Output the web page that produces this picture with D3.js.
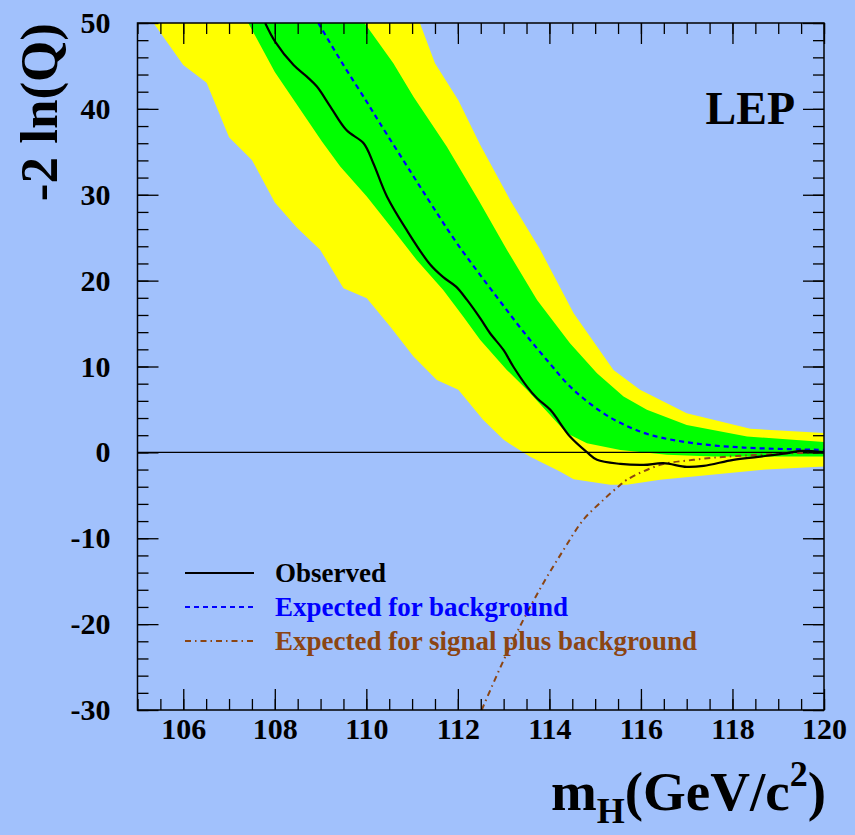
<!DOCTYPE html>
<html>
<head>
<meta charset="utf-8">
<script src="https://cdn.jsdelivr.net/npm/d3@7"></script>
<style>
  html, body { margin: 0; padding: 0; background: #a1c1fc; }
  svg { display: block; }
  text { font-family: "Liberation Serif", "Times New Roman", serif; font-weight: bold; }
</style>
</head>
<body>
<svg id="chart" width="855" height="835"></svg>
<script>
// -2 ln(Q) versus Higgs mass, LEP combination

// Observed test statistic [mH, -2lnQ]
const observed = [[107.79,50],[108.01,47.8],[108.41,45.1],[108.70,43.75],[108.92,42.6],[109.21,40.3],
  [109.57,37.5],[109.94,36.0],[110.15,33.7],[110.45,29.8],[110.88,25.9],[111.39,21.9],[111.68,20.4],
  [111.96,19.3],[112.20,17.75],[112.49,15.6],[112.70,13.9],[113.0,11.9],[113.21,10.0],[113.51,7.66],
  [113.73,6.3],[114.02,4.95],[114.45,1.84],[114.82,0.02],[115.04,-0.87],[115.55,-1.34],[116.06,-1.46],
  [116.49,-1.26],[117.0,-1.69],[117.37,-1.57],[118.02,-0.87],[118.56,-0.52],[119.19,-0.09],
  [119.48,0.17],[120,0.02]];

// Expected for background only
const expectedBkg = [[108.95,50],[109.5,45.1],[110.0,40.9],[110.3,38.3],[111.0,32.4],[111.43,28.8],
  [112.0,24.2],[112.85,18.1],[113.5,13.6],[114.0,10.4],[114.38,8.06],[114.74,6.3],[115.18,4.56],
  [115.6,3.3],[116.2,2.04],[117.15,1.07],[118.24,0.56],[120,0.29]];

// Expected for signal plus background
const expectedSig = [[112.52,-30],[113.0,-24.2],[113.43,-19.5],[113.87,-15.2],[114.31,-11.35],
  [114.74,-7.86],[115.18,-5.53],[115.51,-3.97],[115.69,-3.2],[116.42,-1.46],[117.15,-0.87],
  [117.88,-0.49],[118.61,-0.29],[119.33,-0.09],[120,-0.02]];

// 1 sigma band edges
const band1Low = [[107.42,50],[108.0,44.3],[109.03,36.2],[109.43,33.3],[110.01,29.8],[110.59,25.9],
  [111.1,22.4],[111.68,18.9],[112.12,15.8],[112.49,13.1],[113.07,9.6],[113.51,7.28],[114.38,2.24],
  [114.82,1.07],[115.55,0.29],[116.57,-0.29],[117.59,-0.49],[120,-0.49]];
const band1High = [[109.96,50],[110.59,45.3],[111.03,41.4],[111.76,35.6],[112.45,29.4],[113.07,23.6],
  [113.73,17.75],[114.45,12.7],[115.04,9.2],[115.62,6.5],[116.13,4.95],[117.0,3.2],[118.32,1.84],[120,1.22]];

// 2 sigma band edges
const band2Low = [[105.35,50],[106.0,45.1],[106.51,43.05],[107.0,36.7],[107.5,34.05],[108.0,29.1],
  [108.48,26.2],[108.99,23.6],[109.5,19.1],[110.01,17.95],[110.52,14.65],[111.03,11.15],[111.54,8.44],
  [112.01,7.28],[112.55,3.8],[113.0,1.46],[113.58,-0.52],[114.23,-2.24],[114.53,-3.12],
  [115.33,-3.78],[115.69,-3.78],[116.42,-3.2],[117.15,-2.82],[118.61,-2.04],[120,-1.65]];
const band2High = [[111.17,50],[111.50,45.3],[112.01,41.0],[112.49,35.8],[113.14,29.4],[113.80,23.6],
  [114.53,16.2],[115.40,9.6],[115.98,7.28],[117.0,4.56],[118.39,2.74],[120,2.27]];

const xTicks = [106, 108, 110, 112, 114, 116, 118, 120];
const yTicks = [-30, -20, -10, 0, 10, 20, 30, 40, 50];

const legendItems = [
  { label: "Observed", color: "#000000", dash: null },
  { label: "Expected for background", color: "#0000ff", dash: "5,4" },
  { label: "Expected for signal plus background", color: "#8b4513", dash: "6,4,1.5,4" }
];

const W = 855, H = 835;
const plot = { left: 137.5, right: 824, top: 23, bottom: 710 };

const svg = d3.select("#chart");
svg.append("rect").attr("width", W).attr("height", H).attr("fill", "#a1c1fc");

const x = d3.scaleLinear().domain([105, 120]).range([plot.left, plot.right]);
const y = d3.scaleLinear().domain([-30, 50]).range([plot.bottom, plot.top]);

svg.append("clipPath").attr("id", "plotClip")
  .append("rect")
  .attr("x", plot.left).attr("y", plot.top)
  .attr("width", plot.right - plot.left).attr("height", plot.bottom - plot.top);

const g = svg.append("g").attr("clip-path", "url(#plotClip)");

const polyLine = d3.line().x(d => x(d[0])).y(d => y(d[1])).curve(d3.curveLinearClosed);
const smooth = d3.line().x(d => x(d[0])).y(d => y(d[1])).curve(d3.curveCatmullRom.alpha(0.5));

// bands
g.append("path").attr("d", polyLine(band2Low.concat(band2High.slice().reverse())))
  .attr("fill", "#ffff00");
g.append("path").attr("d", polyLine(band1Low.concat(band1High.slice().reverse())))
  .attr("fill", "#00ff00");

// zero reference line
g.append("line")
  .attr("x1", plot.left).attr("x2", plot.right)
  .attr("y1", y(0)).attr("y2", y(0))
  .attr("stroke", "#000").attr("stroke-width", 1.2);

// curves
g.append("path").attr("d", smooth(expectedSig)).attr("fill", "none")
  .attr("stroke", legendItems[2].color).attr("stroke-width", 2)
  .attr("stroke-dasharray", legendItems[2].dash);
g.append("path").attr("d", smooth(expectedBkg)).attr("fill", "none")
  .attr("stroke", legendItems[1].color).attr("stroke-width", 2.2)
  .attr("stroke-dasharray", legendItems[1].dash);
g.append("path").attr("d", smooth(observed)).attr("fill", "none")
  .attr("stroke", "#000").attr("stroke-width", 2.2);

// axes with inward ticks on all four sides
const minorX = d3.range(105, 120.001, 0.5);
const minorY = d3.range(-30, 50.001, 2);
const plainNumber = d => String(d);

function addAxis(axis, tx, ty) {
  const a = svg.append("g").attr("transform", `translate(${tx},${ty})`).call(axis);
  a.select(".domain").remove();
  a.selectAll("line").attr("stroke", "#000").attr("stroke-width", 1.3);
  return a;
}

addAxis(d3.axisBottom(x).tickValues(minorX).tickSize(-11).tickFormat(""), 0, plot.bottom);
addAxis(d3.axisTop(x).tickValues(minorX).tickSize(-11).tickFormat(""), 0, plot.top);
addAxis(d3.axisLeft(y).tickValues(minorY).tickSize(-11).tickFormat(""), plot.left, 0);
addAxis(d3.axisRight(y).tickValues(minorY).tickSize(-11).tickFormat(""), plot.right, 0);

const xb = addAxis(d3.axisBottom(x).tickValues(xTicks).tickSize(-21).tickPadding(8).tickFormat(plainNumber), 0, plot.bottom);
addAxis(d3.axisTop(x).tickValues(xTicks).tickSize(-21).tickFormat(""), 0, plot.top);
const yl = addAxis(d3.axisLeft(y).tickValues(yTicks).tickSize(-21).tickPadding(27).tickFormat(plainNumber), plot.left, 0);
addAxis(d3.axisRight(y).tickValues(yTicks).tickSize(-21).tickFormat(""), plot.right, 0);

[xb, yl].forEach(a => a.selectAll("text")
  .attr("fill", "#000").style("font-size", "30px")
  .style("font-family", "'Liberation Serif', serif").style("font-weight", "bold"));

// frame
svg.append("rect")
  .attr("x", plot.left).attr("y", plot.top)
  .attr("width", plot.right - plot.left).attr("height", plot.bottom - plot.top)
  .attr("fill", "none").attr("stroke", "#000").attr("stroke-width", 1.5);

// axis titles
svg.append("text")
  .attr("transform", `translate(57,${plot.top}) rotate(-90)`)
  .attr("text-anchor", "end")
  .style("font-size", "53px")
  .text("-2 ln(Q)");

const xt = svg.append("text")
  .attr("x", 826).attr("y", 810)
  .attr("text-anchor", "end")
  .style("font-size", "55px");
xt.append("tspan").text("m");
xt.append("tspan").attr("dy", 13).style("font-size", "36px").text("H");
xt.append("tspan").attr("dy", -13).text("(GeV/c");
xt.append("tspan").attr("dy", -24).style("font-size", "36px").text("2");
xt.append("tspan").attr("dy", 24).text(")");

// experiment label
svg.append("text")
  .attr("x", 795).attr("y", 124)
  .attr("text-anchor", "end")
  .style("font-size", "46px")
  .text("LEP");

// legend
const leg = svg.append("g");
legendItems.forEach((d, i) => {
  const yy = 573 + i * 34;
  leg.append("line")
    .attr("x1", 185).attr("x2", 254).attr("y1", yy).attr("y2", yy)
    .attr("stroke", d.color).attr("stroke-width", 2)
    .attr("stroke-dasharray", d.dash);
  leg.append("text")
    .attr("x", 275).attr("y", yy + 9)
    .attr("fill", d.color)
    .style("font-size", "27px")
    .text(d.label);
});
</script>
</body>
</html>
